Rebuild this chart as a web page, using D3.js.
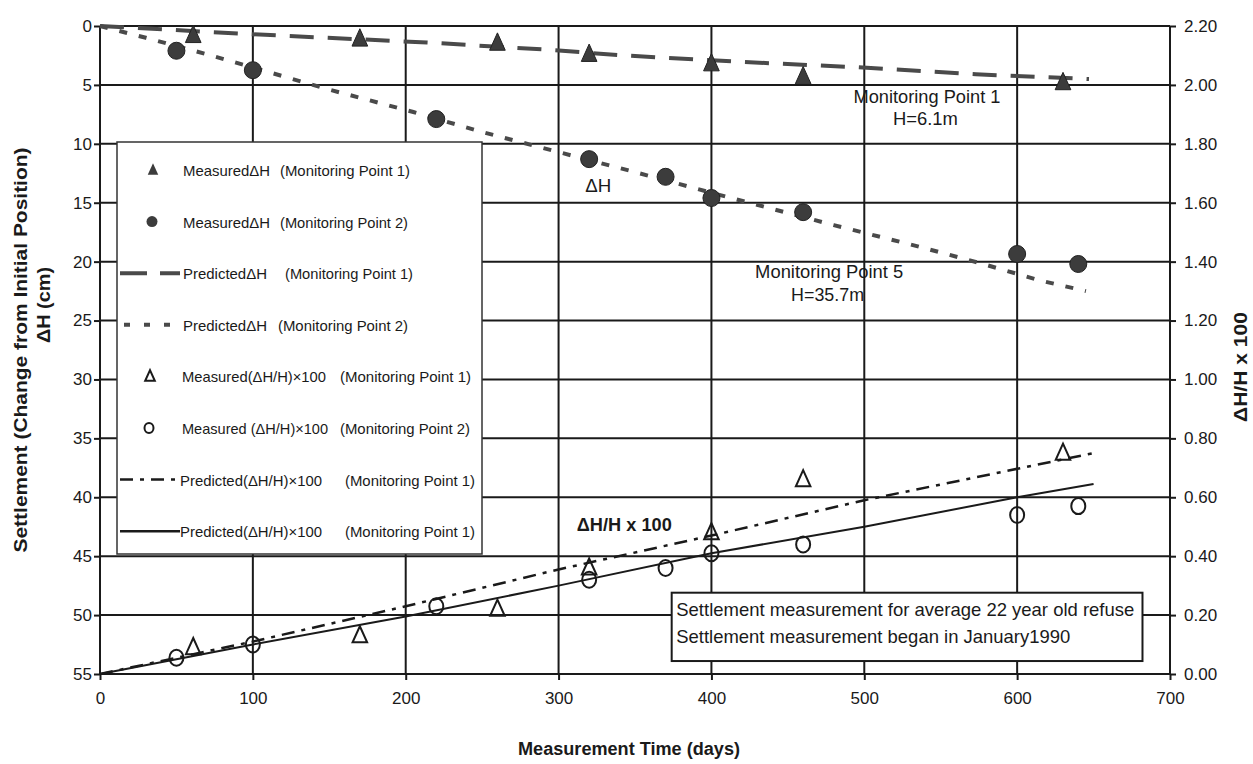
<!DOCTYPE html>
<html>
<head>
<meta charset="utf-8">
<script src="https://cdn.jsdelivr.net/npm/d3@7"></script>
<style>
  body { margin: 0; background: #fff; }
  svg { display: block; font-family: "Liberation Sans", Arial, sans-serif; }
</style>
</head>
<body>
<div id="chart"></div>
<script>
// measurement times (days)
const daysP1 = [61, 170, 260, 320, 400, 460, 630];
const daysP2 = [50, 100, 220, 320, 370, 400, 460, 600, 640];
// measured settlement dH (cm)
const measDH1 = [0.8, 1.1, 1.45, 2.4, 3.2, 4.3, 4.8];
const measDH2 = [2.1, 3.75, 7.9, 11.3, 12.8, 14.6, 15.8, 19.35, 20.2];
// measured (dH/H) x 100
const measRatio1 = [0.09, 0.13, 0.22, 0.36, 0.48, 0.66, 0.75];
const measRatio2 = [0.055, 0.10, 0.23, 0.32, 0.36, 0.41, 0.44, 0.54, 0.57];
// predicted dH (cm)
const predDays1 = [0, 100, 214, 291, 343, 420, 495, 573, 647];
const predDH1 = [0, 0.7, 1.4, 2.0, 2.5, 3.05, 3.5, 4.1, 4.5];
const predDays2 = [0, 30, 70, 110, 150, 205, 250, 300, 350, 410, 480, 535, 575, 615, 645];
const predDH2 = [0, 1.0, 2.4, 3.9, 5.4, 7.3, 9.0, 10.7, 12.4, 14.5, 16.9, 18.7, 20.1, 21.6, 22.5];
// predicted (dH/H) x 100
const predRatioDays1 = [0, 100, 200, 300, 400, 500, 650];
const predRatio1 = [0, 0.11, 0.23, 0.355, 0.47, 0.59, 0.75];
const predRatioDays2 = [0, 100, 200, 300, 400, 500, 600, 650];
const predRatio2 = [0, 0.1, 0.195, 0.3, 0.41, 0.5, 0.6, 0.645];
// ticks
const xTicks = [0, 100, 200, 300, 400, 500, 600, 700];
const leftTicks = [0, 5, 10, 15, 20, 25, 30, 35, 40, 45, 50, 55];
const rightTicks = [0, 0.2, 0.4, 0.6, 0.8, 1.0, 1.2, 1.4, 1.6, 1.8, 2.0, 2.2];

const W = 1253, H = 764;
const svg = d3.select("#chart").append("svg").attr("width", W).attr("height", H);

const x = d3.scaleLinear().domain([0, 700]).range([100, 1170]);
const yL = d3.scaleLinear().domain([0, 55]).range([26, 674]);
const yR = d3.scaleLinear().domain([0, 2.2]).range([674, 26]);
const ink = "#1a1a1a";

// grid (includes frame)
const grid = svg.append("g").attr("stroke", ink).attr("stroke-width", 2);
grid.selectAll(".h").data(leftTicks).join("line")
  .attr("x1", x(0)).attr("x2", x(700)).attr("y1", d => yL(d)).attr("y2", d => yL(d));
grid.selectAll(".v").data(xTicks).join("line")
  .attr("x1", d => x(d)).attr("x2", d => x(d)).attr("y1", yL(0)).attr("y2", yL(55));

// axes
let styleAxis = g => {
  g.select(".domain").remove();
  g.selectAll(".tick line").attr("stroke", ink).attr("stroke-width", 2);
  g.selectAll(".tick text").attr("fill", ink).attr("font-size", 17)
    .attr("font-family", "Liberation Sans, Arial, sans-serif");
};
svg.append("g").attr("transform", `translate(${x(0)},0)`)
  .call(d3.axisLeft(yL).tickValues(leftTicks).tickSize(6).tickPadding(2)).call(styleAxis);
svg.append("g").attr("transform", `translate(${x(700)},0)`)
  .call(d3.axisRight(yR).tickValues(rightTicks).tickSize(6).tickPadding(8).tickFormat(d3.format(".2f"))).call(styleAxis);
svg.append("g").attr("transform", `translate(0,${yL(55)})`)
  .call(d3.axisBottom(x).tickValues(xTicks).tickSize(6).tickPadding(12)).call(styleAxis);

// helper for text
let txt = (g, s, px, py, o = {}) => {
  let t = g.append("text").attr("x", px).attr("y", py).text(s)
    .attr("font-size", o.size || 17).attr("fill", ink)
    .attr("font-weight", o.bold ? "bold" : "normal")
    .attr("text-anchor", o.anchor || "start");
  if (o.len) t.attr("textLength", o.len).attr("lengthAdjust", "spacingAndGlyphs");
  if (o.rot) t.attr("transform", `rotate(-90,${px},${py})`);
  return t;
};

// tall triangle symbol
const tallTri = { draw(ctx, size) {
  const h = Math.sqrt(size);
  ctx.moveTo(0, -h * 0.6); ctx.lineTo(h * 0.46, h * 0.42); ctx.lineTo(-h * 0.46, h * 0.42); ctx.closePath();
} };

// predicted lines
let lineL = d3.line().x(d => x(d[0])).y(d => yL(d[1]));
let lineR = d3.line().x(d => x(d[0])).y(d => yR(d[1]));
let plot = svg.append("g");
plot.append("path").attr("d", lineL(d3.zip(predDays1, predDH1)))
  .attr("fill", "none").attr("stroke", "#4a4a4a").attr("stroke-width", 4).attr("stroke-dasharray", "24,14");
plot.append("path").attr("d", lineL(d3.zip(predDays2, predDH2)))
  .attr("fill", "none").attr("stroke", "#4a4a4a").attr("stroke-width", 4).attr("stroke-dasharray", "8,12");
plot.append("path").attr("d", lineR(d3.zip(predRatioDays1, predRatio1)))
  .attr("fill", "none").attr("stroke", ink).attr("stroke-width", 2.5).attr("stroke-dasharray", "13,7,4,7");
plot.append("path").attr("d", lineR(d3.zip(predRatioDays2, predRatio2)))
  .attr("fill", "none").attr("stroke", ink).attr("stroke-width", 2);

// measured points
plot.selectAll(".ft").data(d3.zip(daysP1, measDH1)).join("path")
  .attr("transform", d => `translate(${x(d[0])},${yL(d[1])})`)
  .attr("d", d3.symbol(tallTri, 290)).attr("fill", "#3c3c3c").attr("stroke", "#222").attr("stroke-width", 1);
plot.selectAll(".fc").data(d3.zip(daysP2, measDH2)).join("circle")
  .attr("cx", d => x(d[0])).attr("cy", d => yL(d[1])).attr("r", 8.5)
  .attr("fill", "#3c3c3c").attr("stroke", "#222").attr("stroke-width", 1);
plot.selectAll(".ot").data(d3.zip(daysP1, measRatio1)).join("path")
  .attr("transform", d => `translate(${x(d[0])},${yR(d[1])})`)
  .attr("d", d3.symbol(tallTri, 250)).attr("fill", "none").attr("stroke", ink).attr("stroke-width", 2);
plot.selectAll(".oc").data(d3.zip(daysP2, measRatio2)).join("ellipse")
  .attr("cx", d => x(d[0])).attr("cy", d => yR(d[1])).attr("rx", 7).attr("ry", 8)
  .attr("fill", "none").attr("stroke", ink).attr("stroke-width", 2);

// annotations
let ann = svg.append("g");
txt(ann, "Monitoring Point 1", x(541), yL(6.5), { size: 18, anchor: "middle", len: 147 });
txt(ann, "H=6.1m", x(540), yL(8.4), { size: 18, anchor: "middle", len: 65 });
txt(ann, "Monitoring Point 5", x(477), yL(21.35), { size: 18, anchor: "middle", len: 148 });
txt(ann, "H=35.7m", x(476), yL(23.3), { size: 18, anchor: "middle", len: 73 });
txt(ann, "ΔH", x(326), yL(14.1), { size: 19, anchor: "middle", len: 26 });
txt(ann, "ΔH/H x 100", x(343), yL(42.9), { size: 18, anchor: "middle", bold: true, len: 95 });

// note box
ann.append("rect").attr("x", x(374)).attr("y", yL(48.1))
  .attr("width", x(682) - x(374)).attr("height", yL(53.9) - yL(48.1))
  .attr("fill", "#fff").attr("stroke", ink).attr("stroke-width", 2);
txt(ann, "Settlement measurement for average 22 year old refuse", x(377), yL(50.1), { size: 18.5, len: 458 });
txt(ann, "Settlement measurement began in January1990", x(377), yL(52.4), { size: 18.5, len: 394 });

// legend
let leg = svg.append("g");
leg.append("rect").attr("x", 117).attr("y", 142).attr("width", 365).attr("height", 412)
  .attr("fill", "#fff").attr("stroke", "#333").attr("stroke-width", 1.5);
const legRows = [
  { a: "MeasuredΔH", al: 87, b: "(Monitoring Point 1)", bx: 280, bl: 130, tx: 183, k: "ft" },
  { a: "MeasuredΔH", al: 87, b: "(Monitoring Point 2)", bx: 280, bl: 128, tx: 183, k: "fc" },
  { a: "PredictedΔH", al: 84, b: "(Monitoring Point 1)", bx: 285, bl: 128, tx: 183, k: "d1" },
  { a: "PredictedΔH", al: 84, b: "(Monitoring Point 2)", bx: 278, bl: 130, tx: 183, k: "d2" },
  { a: "Measured(ΔH/H)×100", al: 144, b: "(Monitoring Point 1)", bx: 340, bl: 131, tx: 182, k: "ot" },
  { a: "Measured (ΔH/H)×100", al: 146, b: "(Monitoring Point 2)", bx: 340, bl: 130, tx: 182, k: "oc" },
  { a: "Predicted(ΔH/H)×100", al: 142, b: "(Monitoring Point 1)", bx: 345, bl: 130, tx: 180, k: "dd" },
  { a: "Predicted(ΔH/H)×100", al: 142, b: "(Monitoring Point 1)", bx: 345, bl: 130, tx: 180, k: "s" }
];
legRows.forEach((r, i) => {
  const cy = 170 + i * 51.6;
  txt(leg, r.a, r.tx, cy + 6, { size: 15, len: r.al });
  txt(leg, r.b, r.bx, cy + 6, { size: 15, len: r.bl });
  if (r.k === "ft") leg.append("path").attr("transform", `translate(153,${cy})`)
    .attr("d", d3.symbol(tallTri, 130)).attr("fill", "#3c3c3c");
  if (r.k === "fc") leg.append("circle").attr("cx", 152).attr("cy", cy).attr("r", 5.5).attr("fill", "#3c3c3c");
  if (r.k === "ot") leg.append("path").attr("transform", `translate(150,${cy})`)
    .attr("d", d3.symbol(tallTri, 110)).attr("fill", "none").attr("stroke", ink).attr("stroke-width", 2);
  if (r.k === "oc") leg.append("ellipse").attr("cx", 149).attr("cy", cy).attr("rx", 4.5).attr("ry", 5)
    .attr("fill", "none").attr("stroke", ink).attr("stroke-width", 2);
  const dash = { d1: "27,13", d2: "6,14", dd: "13,7,4,7", s: null }[r.k];
  if (r.k in { d1: 1, d2: 1, dd: 1, s: 1 }) {
    const ln = leg.append("line").attr("x1", r.k === "d2" ? 124 : 120).attr("x2", 180)
      .attr("y1", cy).attr("y2", cy)
      .attr("stroke", r.k === "d1" || r.k === "d2" ? "#4a4a4a" : ink)
      .attr("stroke-width", r.k === "d1" || r.k === "d2" ? 4 : 2.5);
    if (dash) ln.attr("stroke-dasharray", dash);
  }
});

// axis titles
txt(svg, "Measurement Time (days)", 629, 755, { size: 18, bold: true, anchor: "middle", len: 222 });
txt(svg, "Settlement (Change from Initial Position)", 27, 350, { size: 19, bold: true, anchor: "middle", len: 405, rot: true });
txt(svg, "ΔH (cm)", 50, 305, { size: 18, bold: true, anchor: "middle", len: 76, rot: true });
txt(svg, "ΔH/H x 100", 1247, 367, { size: 19, bold: true, anchor: "middle", len: 110, rot: true });
</script>
</body>
</html>
